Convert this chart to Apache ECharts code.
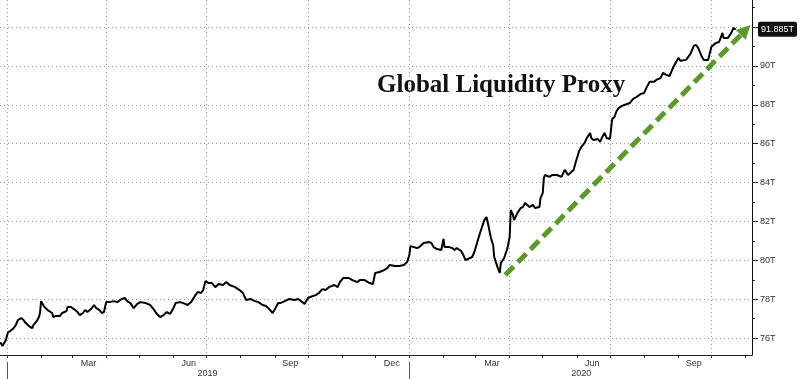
<!DOCTYPE html>
<html><head><meta charset="utf-8">
<script src="https://cdn.jsdelivr.net/npm/echarts@6/dist/echarts.min.js"></script>
<style>html,body{margin:0;padding:0;background:#fff}#c{width:800px;height:379px}</style>
</head><body><div id="c"></div><script>
// ---- data ----
const dates = ['2018-12-26','2018-12-28','2018-12-31','2019-01-02','2019-01-04','2019-01-07','2019-01-09','2019-01-11','2019-01-14','2019-01-16','2019-01-18','2019-01-22','2019-01-24','2019-01-25','2019-01-28','2019-01-30','2019-01-31','2019-02-01','2019-02-04','2019-02-07','2019-02-11','2019-02-12','2019-02-14','2019-02-18','2019-02-20','2019-02-24','2019-02-25','2019-02-28','2019-03-04','2019-03-06','2019-03-08','2019-03-11','2019-03-13','2019-03-15','2019-03-19','2019-03-21','2019-03-23','2019-03-26','2019-03-28','2019-03-30','2019-04-01','2019-04-04','2019-04-08','2019-04-11','2019-04-15','2019-04-18','2019-04-20','2019-04-23','2019-04-26','2019-04-29','2019-05-02','2019-05-07','2019-05-11','2019-05-14','2019-05-17','2019-05-20','2019-05-23','2019-05-26','2019-05-29','2019-06-01','2019-06-03','2019-06-07','2019-06-10','2019-06-14','2019-06-17','2019-06-21','2019-06-23','2019-06-26','2019-06-28','2019-06-30','2019-07-03','2019-07-06','2019-07-09','2019-07-12','2019-07-16','2019-07-19','2019-07-22','2019-07-27','2019-07-31','2019-08-03','2019-08-06','2019-08-10','2019-08-14','2019-08-17','2019-08-21','2019-08-24','2019-08-27','2019-08-30','2019-09-01','2019-09-04','2019-09-06','2019-09-10','2019-09-14','2019-09-19','2019-09-22','2019-09-26','2019-09-28','2019-10-01','2019-10-03','2019-10-08','2019-10-11','2019-10-14','2019-10-17','2019-10-20','2019-10-25','2019-10-28','2019-10-30','2019-11-02','2019-11-07','2019-11-10','2019-11-15','2019-11-17','2019-11-21','2019-11-26','2019-11-29','2019-12-01','2019-12-05','2019-12-09','2019-12-12','2019-12-14','2019-12-19','2019-12-23','2019-12-27','2019-12-30','2020-01-01','2020-01-02','2020-01-05','2020-01-08','2020-01-10','2020-01-14','2020-01-19','2020-01-21','2020-01-23','2020-01-26','2020-01-30','2020-02-01','2020-02-02','2020-02-06','2020-02-09','2020-02-11','2020-02-13','2020-02-17','2020-02-19','2020-02-21','2020-02-25','2020-02-27','2020-02-29','2020-03-04','2020-03-06','2020-03-09','2020-03-11','2020-03-13','2020-03-15','2020-03-17','2020-03-18','2020-03-21','2020-03-23','2020-03-24','2020-03-27','2020-03-30','2020-04-01','2020-04-02','2020-04-04','2020-04-05','2020-04-08','2020-04-11','2020-04-13','2020-04-15','2020-04-16','2020-04-19','2020-04-22','2020-04-24','2020-04-28','2020-04-29','2020-05-01','2020-05-02','2020-05-03','2020-05-07','2020-05-10','2020-05-11','2020-05-14','2020-05-18','2020-05-20','2020-05-21','2020-05-24','2020-05-26','2020-05-29','2020-05-31','2020-06-03','2020-06-05','2020-06-08','2020-06-10','2020-06-13','2020-06-14','2020-06-16','2020-06-20','2020-06-22','2020-06-24','2020-06-26','2020-06-28','2020-07-01','2020-07-03','2020-07-05','2020-07-07','2020-07-09','2020-07-12','2020-07-14','2020-07-19','2020-07-22','2020-07-25','2020-07-29','2020-08-01','2020-08-03','2020-08-06','2020-08-10','2020-08-12','2020-08-16','2020-08-18','2020-08-21','2020-08-24','2020-08-28','2020-09-01','2020-09-03','2020-09-08','2020-09-12','2020-09-15','2020-09-17','2020-09-19','2020-09-22','2020-09-24','2020-09-28','2020-10-01','2020-10-05','2020-10-08','2020-10-11','2020-10-12','2020-10-16','2020-10-19','2020-10-21','2020-10-22','2020-10-23'];
const values = [75.79,75.59,75.90,76.31,76.36,76.51,76.67,76.93,77.03,76.93,76.77,76.57,76.51,76.67,76.87,77.08,77.29,77.90,77.60,77.44,77.29,77.08,77.13,77.13,77.29,77.39,77.60,77.60,77.44,77.34,77.18,77.29,77.44,77.34,77.54,77.70,77.54,77.44,77.29,77.34,77.85,77.85,77.90,77.85,78.01,78.06,77.90,77.80,77.54,77.75,77.85,77.80,77.70,77.49,77.24,77.08,77.18,77.34,77.24,77.54,77.80,77.85,77.80,77.70,77.85,78.21,78.37,78.32,78.47,78.93,78.83,78.83,78.62,78.78,78.73,78.88,78.73,78.62,78.47,78.32,77.96,78.01,77.90,77.85,77.70,77.65,77.49,77.29,77.49,77.80,77.80,77.90,78.01,77.96,78.01,77.85,77.75,78.06,78.11,78.21,78.32,78.52,78.47,78.62,78.73,78.62,78.88,79.09,79.09,78.99,78.88,78.99,78.99,78.83,78.78,79.35,79.40,79.50,79.60,79.76,79.71,79.71,79.76,79.91,80.27,80.73,80.68,80.63,80.68,80.89,80.94,80.89,80.68,80.58,80.53,81.10,80.68,80.68,80.63,80.53,80.63,80.48,80.27,80.01,80.12,80.17,80.43,81.20,81.56,82.07,82.23,81.71,81.15,80.79,80.17,79.65,79.35,79.86,80.12,80.63,81.20,82.59,82.33,82.07,82.43,82.69,82.74,82.95,83.05,82.74,82.85,82.69,82.74,83.21,83.46,84.23,84.39,84.29,84.39,84.29,84.39,84.29,84.54,84.65,84.39,84.49,84.65,85.06,85.62,85.83,86.04,86.29,86.55,86.29,86.19,86.24,86.09,86.34,86.55,86.29,86.24,87.27,87.37,87.68,87.84,87.94,87.99,88.09,88.30,88.40,88.56,88.61,88.87,89.18,89.18,89.28,89.38,89.64,89.54,89.48,90.00,90.41,90.26,90.31,90.62,91.03,91.08,90.93,90.51,90.31,90.31,90.98,91.18,91.23,91.70,91.44,91.44,91.70,91.95,92.05,91.885];
const yLabelValues = [76,78,80,82,84,86,88,90];
const yMajorTicks = [76,78,80,82,84,86,88,90,92];
const yMinorTicks = [77,79,81,83,85,87,89,91,93];
const lastValue = 91.885;
const monthNames = ['Jan','Feb','Mar','Apr','May','Jun','Jul','Aug','Sep','Oct','Nov','Dec'];
const monthLabelDates = ['2019-03-16','2019-06-15','2019-09-15','2019-12-16','2020-03-16','2020-06-15','2020-09-15'];
const yearLabelDates = ['2019-07-02','2020-06-05'];
const yearStarts = ['2019-01-01','2020-01-01'];
const quarterStarts = ['2019-01-01','2019-04-01','2019-07-01','2019-10-01','2020-01-01','2020-04-01','2020-07-01','2020-10-01'];
const arrowFrom = ['2020-03-28', 79.24];
const arrowTo = ['2020-11-01', 91.85];
const titleText = 'Global Liquidity Proxy';

// ---- build ----
const T = s => echarts.time.parse(s).getTime();
const monthStarts = [];
for (let y = 2019; y <= 2020; y++) for (let m = 0; m < 12; m++) {
  if (y === 2020 && m > 10) break;
  monthStarts.push(new Date(y, m, 1).getTime());
}
const xMin = T('2018-12-25 17:00');
const xMax = T('2020-11-06 19:00');
const yMin = 75.13, yMax = 93.39;
const font = 'Liberation Sans';
const gridStyle = {color: '#9a9a9a', type: [1, 3], width: 1};

const chart = echarts.init(document.getElementById('c'), null, {renderer: 'canvas'});
chart.setOption({
  animation: false,
  backgroundColor: '#fff',
  title: {
    text: titleText, left: 377, top: 73, padding: 0,
    textStyle: {fontFamily: 'Liberation Serif', fontWeight: 'bold', fontSize: 25, color: '#111'}
  },
  grid: {left: 0, right: 42, top: 0, bottom: 24, containLabel: false},
  xAxis: [
    {
      type: 'value', position: 'bottom', min: xMin, max: xMax,
      axisLine: {show: true, onZero: false, lineStyle: {color: '#222', width: 1}},
      axisTick: {show: true, customValues: monthStarts, length: 3, lineStyle: {color: '#333'}},
      axisLabel: {customValues: monthLabelDates.map(T), margin: 4, fontFamily: font, fontSize: 9, color: '#333',
        formatter: v => monthNames[new Date(v).getMonth()]},
      splitLine: {show: false}
    },
    {
      type: 'value', position: 'bottom', min: xMin, max: xMax,
      axisLine: {show: false, onZero: false},
      axisTick: {show: true, customValues: quarterStarts.map(T), length: 0, lineStyle: {color: 'rgba(0,0,0,0)'}},
      axisLabel: {show: false},
      splitLine: {show: true, lineStyle: gridStyle}
    },
    {
      type: 'value', position: 'bottom', offset: 7, min: xMin, max: xMax,
      axisLine: {show: false, onZero: false},
      axisTick: {show: true, customValues: yearStarts.map(T), length: 17, lineStyle: {color: '#555'}},
      axisLabel: {customValues: yearLabelDates.map(T), margin: 7, fontFamily: font, fontSize: 9, color: '#333',
        formatter: v => String(new Date(v).getFullYear())},
      splitLine: {show: false}
    }
  ],
  yAxis: [
    {
      type: 'value', position: 'right', min: yMin, max: yMax,
      axisLine: {show: true, lineStyle: {color: '#111', width: 1}},
      axisTick: {show: true, customValues: yMajorTicks, length: 6, lineStyle: {color: '#222'}},
      axisLabel: {customValues: yLabelValues, margin: 8, fontFamily: font, fontSize: 9, color: '#333',
        formatter: v => v + 'T'},
      splitLine: {show: true, lineStyle: gridStyle}
    },
    {
      type: 'value', position: 'right', min: yMin, max: yMax,
      axisLine: {show: false},
      axisTick: {show: true, customValues: yMinorTicks, length: 3, lineStyle: {color: '#222'}},
      axisLabel: {show: false},
      splitLine: {show: false}
    },
    {
      type: 'value', position: 'right', min: yMin, max: yMax,
      axisLine: {show: false},
      axisTick: {show: false},
      axisLabel: {customValues: [lastValue], margin: 6, fontFamily: font, fontSize: 9, color: '#fff',
        backgroundColor: '#111', padding: [3, 3, 3, 3], borderRadius: 2,
        formatter: v => v.toFixed(3) + 'T'},
      splitLine: {show: false}
    }
  ],
  series: [{
    type: 'line', xAxisIndex: 0, yAxisIndex: 0,
    data: dates.map((d, i) => [T(d), values[i]]),
    showSymbol: false, symbol: 'none',
    lineStyle: {color: '#000', width: 2},
    markLine: {
      silent: true, symbol: ['none', 'triangle'], symbolSize: [14, 14],
      label: {show: false},
      lineStyle: {color: '#5b9a2a', width: 5, type: [12, 6]},
      data: [[{coord: [T(arrowFrom[0]), arrowFrom[1]]}, {coord: [T(arrowTo[0]), arrowTo[1]]}]]
    }
  }]
});
</script></body></html>
